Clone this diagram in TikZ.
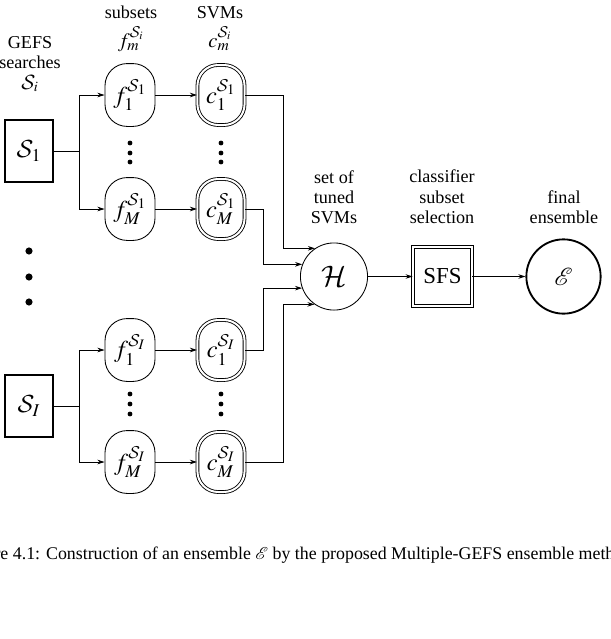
\documentclass[tikz,border=0pt]{standalone}
\usepackage{mathptmx}
\usepackage{mathrsfs}
\usepackage[no-math]{fontspec}
\setmainfont{Liberation Serif}
\DeclareMathAlphabet{\mathcal}{OMS}{cmsy}{m}{n}
\usetikzlibrary{arrows.meta,calc}
\tikzset{
  px/.style={x=0.7pt,y=-0.7pt},
  thin line/.style={line width=0.6pt},
  arr/.style={thin line,-{Stealth[length=5pt,width=3.2pt]}},
  nodemath/.style={font=\fontsize{17}{20}\selectfont},
  srcbox/.style={draw,line width=1.3pt,minimum width=34pt,minimum height=43pt,inner sep=0pt,nodemath},
  fbox/.style={draw,thin line,rounded corners=15.5pt,minimum width=35pt,minimum height=44pt,inner sep=0pt,nodemath},
  cbox/.style={draw,line width=0.6pt,double,double distance=1.4pt,rounded corners=14.5pt,minimum width=33pt,minimum height=42pt,inner sep=0pt,nodemath},
  hub/.style={draw,thin line,circle,minimum size=47pt,inner sep=0pt,font=\fontsize{20}{24}\selectfont},
  sfsbox/.style={draw,line width=0.8pt,double,double distance=1.3pt,minimum size=41pt,inner sep=0pt,font=\fontsize{16}{19}\selectfont},
  final/.style={draw,line width=1.3pt,circle,minimum size=52pt,inner sep=0pt,font=\fontsize{18}{22}\selectfont},
  lbl/.style={anchor=base,inner sep=0pt,font=\fontsize{12.7}{15}\selectfont},
  lblm/.style={anchor=base,inner sep=0pt,font=\fontsize{14.4}{17}\selectfont},
  bigdot/.style={fill,circle,inner sep=0pt,minimum size=5pt},
  smalldot/.style={fill,circle,inner sep=0pt,minimum size=3.4pt},
}
\begin{document}
\begin{tikzpicture}[px]
\useasboundingbox (0,0) rectangle (611,639);

% column labels
\node[lbl] (lblSa) at (30,48) {GEFS};
\node[lbl] (lblSb) at (30,68) {searches};
\node[lbl,font=\fontsize{13.5}{16}\selectfont] (lblSc) at (30,89) {$\mathcal{S}_i$};
\node[lbl] (lblFa) at (131,18) {subsets};
\node[lblm] (lblFb) at (131,47) {$f_m^{\mathcal{S}_i}$};
\node[lbl] (lblCa) at (220,18) {SVMs};
\node[lblm] (lblCb) at (220,47) {$c_m^{\mathcal{S}_i}$};
\node[lbl] (lblHa) at (334,183) {set of};
\node[lbl] (lblHb) at (334,203) {tuned};
\node[lbl] (lblHc) at (334,223) {SVMs};
\node[lbl] (lblSFSa) at (442,182) {classifier};
\node[lbl] (lblSFSb) at (442,203) {subset};
\node[lbl] (lblSFSc) at (442,223) {selection};
\node[lbl] (lblEa) at (564,203) {final};
\node[lbl] (lblEb) at (564,223) {ensemble};

% sources
\node[srcbox] (S1) at (29,151) {$\mathcal{S}_1$};
\node[srcbox] (SI) at (29,406) {$\mathcal{S}_I$};

% feature subsets
\node[fbox] (f11) at (130,95) {$f_1^{\mathcal{S}_1}$};
\node[fbox] (fM1) at (130,209) {$f_M^{\mathcal{S}_1}$};
\node[fbox] (f1I) at (130,350) {$f_1^{\mathcal{S}_I}$};
\node[fbox] (fMI) at (130,462) {$f_M^{\mathcal{S}_I}$};

% SVMs
\node[cbox] (c11) at (221,95) {$c_1^{\mathcal{S}_1}$};
\node[cbox] (cM1) at (221,209) {$c_M^{\mathcal{S}_1}$};
\node[cbox] (c1I) at (221,350) {$c_1^{\mathcal{S}_I}$};
\node[cbox] (cMI) at (221,462) {$c_M^{\mathcal{S}_I}$};

% H, SFS, E
\node[hub] (H) at (334,276.5) {$\mathcal{H}$};
\node[sfsbox] (SFS) at (442.5,276.5) {SFS};
\node[final] (E) at (563.5,276.5) {$\mathscr{E}$};

% dots
\foreach \y [count=\k] in {251,277,302} \node[bigdot] (bd\k) at (29,\y) {};
\foreach \y [count=\k] in {143,153,162} {
  \node[smalldot] (fd\k) at (130,\y) {};
  \node[smalldot] (cd\k) at (221,\y) {};
}
\foreach \y [count=\k] in {394,404,414} {
  \node[smalldot] (fe\k) at (130,\y) {};
  \node[smalldot] (ce\k) at (221,\y) {};
}

% junctions
\coordinate (J1) at (79,151);
\coordinate (J2) at (79,406);
\coordinate (K1) at (283,0);
\coordinate (K2) at (263,0);

% source to subsets
\draw[thin line] (S1.east) -- (J1);
\draw[arr] (J1) |- (f11.west);
\draw[arr] (J1) |- (fM1.west);
\draw[thin line] (SI.east) -- (J2);
\draw[arr] (J2) |- (f1I.west);
\draw[arr] (J2) |- (fMI.west);

% subsets to SVMs
\draw[arr] (f11) -- (c11);
\draw[arr] (fM1) -- (cM1);
\draw[arr] (f1I) -- (c1I);
\draw[arr] (fMI) -- (cMI);

% SVMs to H
\draw[arr] (c11.east) -- (c11.east -| K1) |- (H.124.5);
\draw[arr] (cM1.east) -- (cM1.east -| K2) |- (H.159.3);
\draw[arr] (c1I.east) -- (c1I.east -| K2) |- (H.200.7);
\draw[arr] (cMI.east) -- (cMI.east -| K1) |- (H.235.5);

% chain
\draw[arr] (H) -- (SFS);
\draw[arr] (SFS) -- (E);

% caption (cropped by the page edge)
\node[anchor=base west,inner sep=0pt,font=\fontsize{12.5}{15}\selectfont] (cap) at (-38.5,559)
  {Figure 4.1: Construction of an ensemble $\mathscr{E}$ by the proposed Multiple-GEFS ensemble method.};
\end{tikzpicture}
\end{document}
